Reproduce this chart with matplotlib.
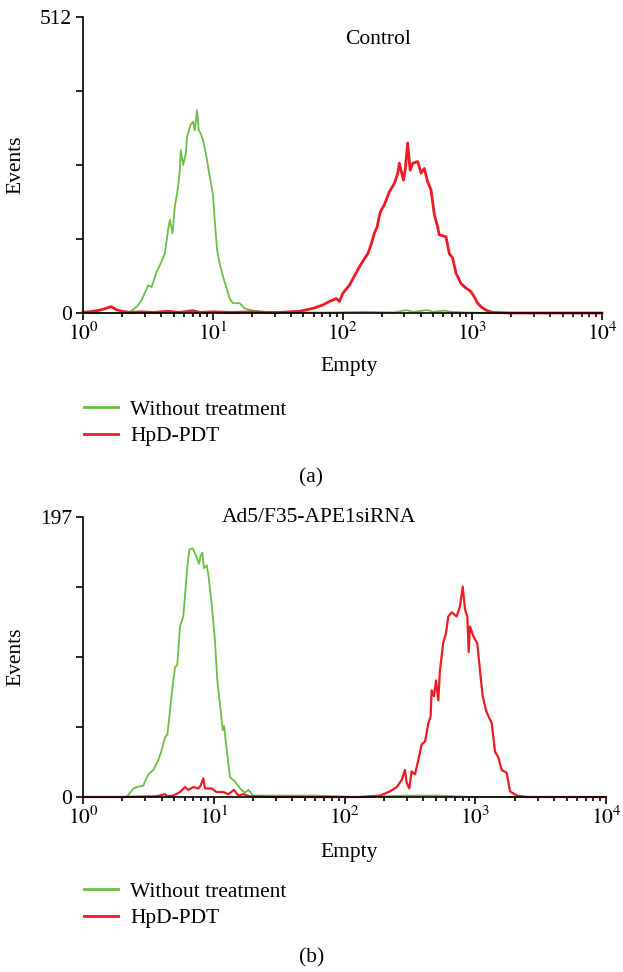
import numpy as np
import matplotlib
matplotlib.use("Agg")
import matplotlib.pyplot as plt
from matplotlib.ticker import LogLocator, NullFormatter, FixedLocator

plt.rcParams['font.family'] = ['Liberation Serif', 'DejaVu Serif']
plt.rcParams['mathtext.fontset'] = 'stix'

# panel (a) - Control
a_green_x = [1.0, 1.5, 2.0, 2.3, 2.6, 2.83, 3.18, 3.38, 3.69, 4.03, 4.27, 4.53, 4.67, 4.9, 5.1, 5.41, 5.57,
             5.67, 5.91, 6.2, 6.34, 6.73, 7.05, 7.27, 7.57, 7.8, 8.04, 8.42, 8.95, 9.48, 10.05, 10.35, 10.8,
             11.3, 12.0, 12.7, 13.5, 14.3, 16.1, 17.6, 20.4, 25, 40, 80, 150, 250, 310, 350, 450, 500, 600,
             700, 900, 1500, 10000]
a_green_y = [0, 0, 0, 2, 11, 22, 48, 45, 71, 89, 103, 144, 161, 138, 184, 218, 247, 282, 256, 276, 305, 325,
             331, 316, 351, 316, 311, 299, 270, 236, 204, 161, 109, 86, 63, 45, 25, 17, 17, 8, 4, 2, 1, 1, 2,
             1, 5, 2, 5, 2, 4, 2, 1, 0, 0]
a_red_x = [1.0, 1.2, 1.35, 1.5, 1.65, 1.8, 2.0, 2.3, 2.8, 3.5, 4.5, 5.5, 7.0, 8.0, 10, 14, 20, 26,
           32.7, 46.7, 59.2, 70.6, 79.4, 89.5, 94.8, 100.5, 113, 127, 135, 143, 157, 166, 176, 185, 193,
           199, 210, 230, 251, 267, 274, 295, 305, 318, 332, 348, 380, 403, 427, 453, 481, 510, 541, 557,
           627, 665, 706, 749, 819, 895, 977, 1036, 1099, 1166, 1274, 1433, 2000, 10000]
a_red_y = [1, 3, 5, 8, 11, 6, 3, 1, 2, 1, 3, 1, 4, 1, 2, 1, 2, 1,
           1, 3, 8, 14, 20, 25, 20, 34, 48, 69, 80, 89, 103, 118, 138, 149, 170, 178, 187, 210, 224, 242,
           259, 230, 250, 294, 247, 259, 262, 242, 250, 227, 213, 170, 149, 135, 132, 103, 95, 69, 51, 43,
           37, 28, 17, 11, 5, 1, 0, 0]

# panel (b) - Ad5/F35-APE1siRNA
b_green_x = [1.0, 1.5, 2.16, 2.43, 2.58, 2.89, 3.16, 3.45, 3.77, 4.0, 4.24, 4.42, 4.63, 4.85, 5.05, 5.26,
             5.52, 5.85, 6.13, 6.28, 6.5, 6.9, 7.31, 7.71, 7.94, 8.17, 8.41, 8.83, 9.08, 9.64, 10.2, 10.65,
             11.2, 11.7, 12.0, 12.4, 13.3, 14.5, 15.9, 17.3, 18.4, 20, 30, 60, 120, 300, 500, 1000, 3000,
             10000]
b_green_y = [0, 0, 0, 6, 7, 8, 16, 19, 26, 33, 42, 44, 61, 78, 91, 93, 120, 127, 150, 162, 174, 175, 170,
             164, 170, 172, 161, 163, 157, 136, 111, 82, 64, 47, 50, 38, 14, 11, 6, 3, 5, 1, 1, 1, 0, 1, 1,
             0, 0, 0]
b_red_x = [1.0, 2.0, 3.66, 4.24, 4.42, 4.91, 5.52, 6.03, 6.4, 6.98, 7.62, 7.94, 8.32, 8.57, 9.64, 10.5,
           11.8, 12.9, 14.3, 15.4, 16.8, 18.9, 30, 100,
           131, 187, 223, 251, 274, 290, 299, 313, 326, 346, 367, 389, 413, 438, 456, 464, 484, 501, 522,
           537, 570, 597, 622, 661, 721, 764, 802, 835, 869, 891, 912, 967, 1037, 1087, 1140, 1208, 1259,
           1336, 1416, 1501, 1592, 1739, 1843, 2075, 2473, 10000]
b_red_y = [0, 0, 0.5, 2, 0.5, 1, 3.5, 7, 5, 7, 6, 8, 13, 6, 6, 3.5, 3.5, 2, 5, 1, 2, 0.5, 0, 0,
           0, 1, 4, 7, 12, 19, 10, 6, 18, 16, 26, 37, 39, 52, 57, 75, 71, 82, 68, 89, 109, 115, 127, 130,
           127, 134, 148, 132, 127, 102, 120, 113, 108, 89, 71, 61, 57, 52, 32, 28, 19, 17, 4, 1, 0, 0]

ymax_a = 512
ymax_b = 197
labels = ['Without treatment', 'HpD-PDT']
green = '#6cbf45'
red = '#ec1c24'
fs = 15.5

W, H = 623.0, 972.0
fig = plt.figure(figsize=(6.23, 9.72), dpi=100)

def make_panel(box, gx, gy, rx, ry, ymax, title, title_y, red_lw, leg_y, sub, sub_y, xlab_y):
    ax = fig.add_axes(box)
    ax.plot(gx, gy, color=green, lw=1.3, clip_on=False, zorder=2)
    ax.plot(rx, ry, color=red, lw=red_lw, clip_on=False, zorder=3)
    ax.set_xscale('log')
    ax.set_xlim(1, 1e4)
    ax.set_ylim(0, ymax)
    for s in ['top', 'right']:
        ax.spines[s].set_visible(False)
    for s in ['left', 'bottom']:
        ax.spines[s].set_linewidth(1.2)
        ax.spines[s].set_zorder(4)
    ax.xaxis.set_major_locator(FixedLocator([1, 10, 100, 1000, 10000]))
    ax.set_xticklabels(['$10^{%d}$' % i for i in range(5)])
    ax.xaxis.set_minor_locator(LogLocator(base=10, subs=np.arange(2, 10)))
    ax.xaxis.set_minor_formatter(NullFormatter())
    ax.set_yticks(np.linspace(0, ymax, 5))
    ax.set_yticklabels(['0', '', '', '', str(ymax)])
    ax.tick_params(axis='both', which='major', direction='out', length=5, width=1.2,
                   labelsize=fs, pad=3)
    ax.tick_params(axis='x', which='minor', direction='out', length=3, width=1.2)
    ax.tick_params(axis='x', which='major', pad=2)
    ax.text(-0.129, 0.5, 'Events', rotation=90, ha='center', va='center',
            fontsize=fs, transform=ax.transAxes)
    fig.text(title[1] / W, 1 - title_y / H, title[0], ha='center', va='center', fontsize=fs)
    fig.text(349 / W, 1 - xlab_y / H, 'Empty', ha='center', va='center', fontsize=fs)
    leg = ax.legend(ax.get_lines(), labels, loc='center left',
                    bbox_to_anchor=(84 / W, 1 - leg_y / H), bbox_transform=fig.transFigure,
                    frameon=False, fontsize=fs, borderpad=0, borderaxespad=0,
                    handlelength=1.6, handletextpad=0.55, labelspacing=0.3)
    for l in leg.get_lines():
        l.set_linewidth(2)
    fig.text(0.5, 1 - sub_y / H, sub, ha='center', va='center', fontsize=fs)
    return ax

ax1 = make_panel([83 / W, 1 - 313 / H, 519 / W, 296 / H], a_green_x, a_green_y, a_red_x, a_red_y,
                 ymax_a, ('Control', 378), 40, 2.0, 423, '(a)', 478, 366)

ax2 = make_panel([83 / W, 1 - 797 / H, 523 / W, 280 / H], b_green_x, b_green_y, b_red_x, b_red_y,
                 ymax_b, ('Ad5/F35-APE1siRNA', 319), 517, 1.6, 905, '(b)', 958, 852)

fig.savefig('out.png', dpi=100)
